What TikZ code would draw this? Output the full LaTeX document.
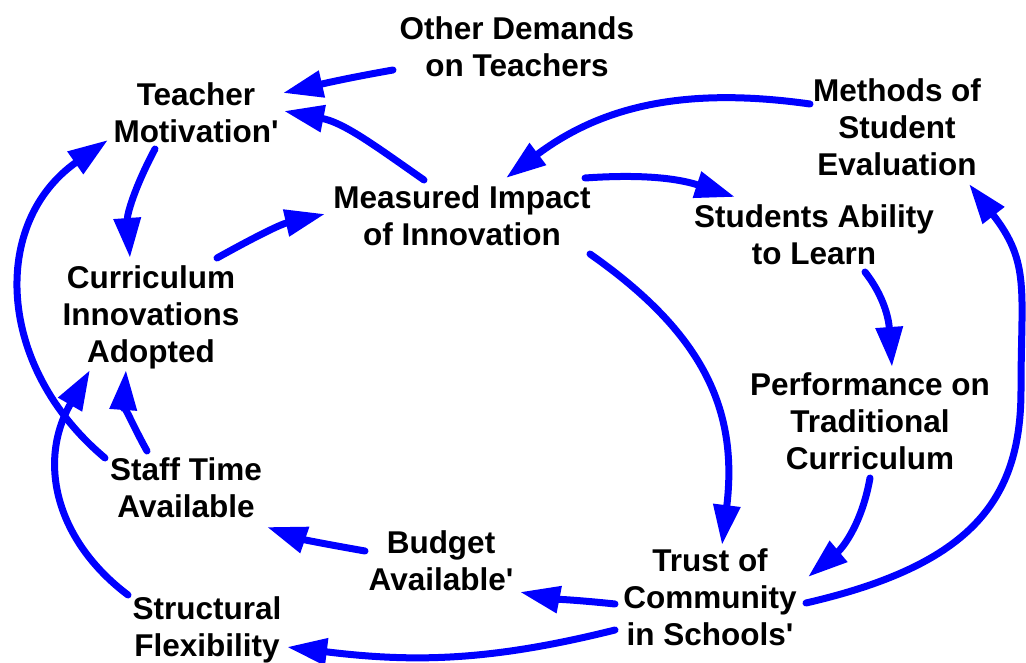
\documentclass[tikz,border=0pt]{standalone}
\usepackage{fontspec}
\setmainfont{Liberation Sans}
\usetikzlibrary{arrows.meta}
\newcommand\myT{\rule{0pt}{23pt}}
\newcommand\myD{\rule[-7pt]{0pt}{7pt}}
\newcommand\q{\textquotesingle}
\tikzset{
  var/.style={align=center, inner sep=0pt,
    font=\bfseries\fontsize{31.5}{37}\selectfont},
  arr/.style={draw=blue, line width=7pt, line cap=round,
    -{Triangle[length=40pt,width=26pt]}},
}
\begin{document}
\begin{tikzpicture}[x=1pt,y=1pt]
\useasboundingbox (0,0) rectangle (1026,-663);
% variables
\node[var] (od)  at (517,-50)  {\myT Other Demands\\on Teachers\myD};
\node[var] (tm)  at (196,-116) {\myT Teacher\\Motivation\q\myD};
\node[var] (mi)  at (462,-219) {\myT Measured Impact\\of Innovation\myD};
\node[var] (mse) at (897,-131) {\myT Methods of\\Student\\Evaluation\myD};
\node[var] (sal) at (814,-238) {\myT Students Ability\\to Learn\myD};
\node[var] (cia) at (151,-317) {\myT Curriculum\\Innovations\\Adopted\myD};
\node[var] (ptc) at (870,-424) {\myT Performance on\\Traditional\\Curriculum\myD};
\node[var] (sta) at (186,-491) {\myT Staff Time\\Available\myD};
\node[var] (ba)  at (441,-564) {\myT Budget\\Available\q\myD};
\node[var] (tcs) at (710,-600) {\myT Trust of\\Community\\in Schools\q\myD};
\node[var] (sf)  at (207,-630) {\myT Structural\\Flexibility\myD};
% links
\draw[arr] ([shift={(-124,-20)}]od.center) to[out=190,in=13] ([shift={(87,23)}]tm.center);
\draw[arr] ([shift={(-38,39)}]mi.center) to[out=145,in=-11] ([shift={(88,5)}]tm.center);
\draw[arr] ([shift={(-41,-33)}]tm.center) to[out=242,in=94] ([shift={(-21,59)}]cia.center);
\draw[arr] ([shift={(66,59)}]cia.center) to[out=29,in=193] ([shift={(-137,5)}]mi.center);
\draw[arr] ([shift={(-87,27)}]mse.center) to[out=172,in=37] ([shift={(44,41)}]mi.center);
\draw[arr] ([shift={(123,41)}]mi.center) to[out=4,in=162] ([shift={(-79,41)}]sal.center);
\draw[arr] ([shift={(51,-34)}]sal.center) to[out=-52,in=94] ([shift={(22,57)}]ptc.center);
\draw[arr] ([shift={(128,-35)}]mi.center) to[out=-35,in=83,looseness=1.1] ([shift={(12,55)}]tcs.center);
\draw[arr] ([shift={(0,-54)}]ptc.center) to[out=-100,in=40] ([shift={(98,23)}]tcs.center);
\draw[arr] ([shift={(96,-3)}]tcs.center) to[out=13,in=270,out distance=170pt,in distance=110pt] (1021,-390)
  to[out=90,in=-52,out distance=100pt,in distance=100pt] ([shift={(72,-53)}]mse.center);
\draw[arr] ([shift={(-95,-4)}]tcs.center) to[out=174,in=-11] ([shift={(79,-28)}]ba.center);
\draw[arr] ([shift={(-95,-30)}]tcs.center) to[out=194,in=-7] ([shift={(80,-17)}]sf.center);
\draw[arr] ([shift={(-76,13)}]ba.center) to[out=170,in=-19] ([shift={(81,-36)}]sta.center);
\draw[arr] ([shift={(-39,40)}]sta.center) to[out=119,in=266] ([shift={(-25,-53)}]cia.center);
\draw[arr] ([shift={(-81,33)}]sta.center) to[out=140,in=215,looseness=1.15] ([shift={(-88,-24)}]tm.center);
\draw[arr] ([shift={(-79,35)}]sf.center) to[out=143,in=240,in looseness=1.2] ([shift={(-61,-53)}]cia.center);
\end{tikzpicture}
\end{document}
